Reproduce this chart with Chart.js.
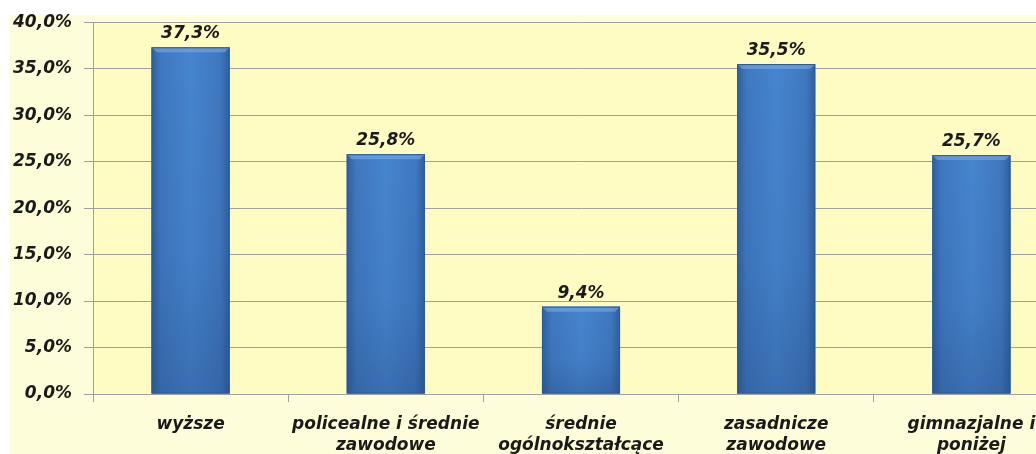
<!DOCTYPE html>
<html>
<head>
<meta charset="utf-8">
<script src="https://cdn.jsdelivr.net/npm/chart.js@4.4.0/dist/chart.umd.min.js"></script>
<style>
  html, body { margin: 0; padding: 0; background: #ffffff; overflow: hidden; }
  #wrap { position: absolute; left: 0; top: 0; width: 1090px; height: 470px; }
</style>
</head>
<body>
<div id="wrap"><canvas id="chart" width="1090" height="470"></canvas></div>
<script>
// wykształcenie - udział procentowy
const categories = [
  ['wyższe'],
  ['policealne i średnie', 'zawodowe'],
  ['średnie', 'ogólnokształcące'],
  ['zasadnicze', 'zawodowe'],
  ['gimnazjalne i', 'poniżej']
]
const values = [37.3, 25.8, 9.4, 35.5, 25.7]
const yTicks = [0, 5, 10, 15, 20, 25, 30, 35, 40]

const fmt = v => v.toFixed(1).replace('.', ',') + '%'
const FONT = 'DejaVu Sans'

// tło wykresu i obszaru kreślenia
const backgroundPlugin = {
  id: 'bg',
  beforeDraw(chart) {
    const { ctx, chartArea } = chart
    ctx.save()
    ctx.fillStyle = '#fefdd9'
    ctx.fillRect(10, 15, chart.width, chart.height)
    ctx.fillStyle = '#fefbc3'
    ctx.fillRect(chartArea.left, chartArea.top, chartArea.right - chartArea.left, chartArea.bottom - chartArea.top)
    ctx.restore()
  }
}

// cieniowanie słupków + etykiety wartości
const barStylePlugin = {
  id: 'barStyle',
  afterDatasetsDraw(chart) {
    const { ctx } = chart
    const meta = chart.getDatasetMeta(0)
    meta.data.forEach((bar, i) => {
      const x0 = bar.x - bar.width / 2
      const x1 = bar.x + bar.width / 2
      const top = bar.y
      const bottom = bar.base
      ctx.save()
      let g = ctx.createLinearGradient(x0, 0, x1, 0)
      g.addColorStop(0, '#2f5f9e')
      g.addColorStop(0.12, '#3f78c0')
      g.addColorStop(0.5, '#4685cf')
      g.addColorStop(0.88, '#3f78c0')
      g.addColorStop(1, '#2f5f9e')
      ctx.fillStyle = g
      ctx.fillRect(x0, top, bar.width, bottom - top)
      // ciemniejszy dół
      let v = ctx.createLinearGradient(0, top, 0, bottom)
      v.addColorStop(0, 'rgba(30,60,110,0)')
      v.addColorStop(0.6, 'rgba(30,60,110,0.08)')
      v.addColorStop(1, 'rgba(30,60,110,0.3)')
      ctx.fillStyle = v
      ctx.fillRect(x0, top, bar.width, bottom - top)
      // jasna faza u góry
      ctx.fillStyle = 'rgba(120,170,230,0.6)'
      ctx.beginPath()
      ctx.moveTo(x0, top)
      ctx.lineTo(x1, top)
      ctx.lineTo(x1 - 5, top + 5)
      ctx.lineTo(x0 + 5, top + 5)
      ctx.closePath()
      ctx.fill()
      ctx.strokeStyle = '#2c5a96'
      ctx.lineWidth = 1
      ctx.strokeRect(x0 + 0.5, top + 0.5, bar.width - 1, bottom - top - 1)
      // etykieta
      ctx.fillStyle = '#1a1a1a'
      ctx.font = 'italic bold 17px "' + FONT + '"'
      ctx.textAlign = 'center'
      ctx.textBaseline = 'bottom'
      ctx.fillText(fmt(values[i]), bar.x, top - 5)
      ctx.restore()
    })
  }
}

const ctx = document.getElementById('chart').getContext('2d')
new Chart(ctx, {
  type: 'bar',
  data: {
    labels: categories,
    datasets: [{
      data: values,
      backgroundColor: '#4685cf',
      borderWidth: 0,
      barPercentage: 0.8,
      categoryPercentage: 0.5
    }]
  },
  options: {
    responsive: false,
    animation: false,
    layout: { padding: { left: 10, top: 22, right: 21, bottom: 0 } },
    plugins: { legend: { display: false }, tooltip: { enabled: false } },
    scales: {
      x: {
        offset: true,
        grid: { offset: true, drawOnChartArea: false, color: '#a0a0a0', tickLength: 8 },
        border: { color: '#a0a0a0' },
        ticks: {
          color: '#1a1a1a',
          font: { family: FONT, size: 17, style: 'italic', weight: 'bold', lineHeight: 1.25 },
          padding: 12,
          maxRotation: 0,
          autoSkip: false
        },
        afterFit(scale) { scale.height = 76 }
      },
      y: {
        min: 0,
        max: 40,
        afterBuildTicks(scale) { scale.ticks = yTicks.map(v => ({ value: v })) },
        grid: { color: '#a0a0a0', tickLength: 9 },
        border: { color: '#a0a0a0' },
        ticks: {
          color: '#1a1a1a',
          font: { family: FONT, size: 17, style: 'italic', weight: 'bold' },
          padding: 12,
          callback: v => fmt(v)
        },
        afterFit(scale) { scale.width = 83 }
      }
    }
  },
  plugins: [backgroundPlugin, barStylePlugin]
})
</script>
</body>
</html>
